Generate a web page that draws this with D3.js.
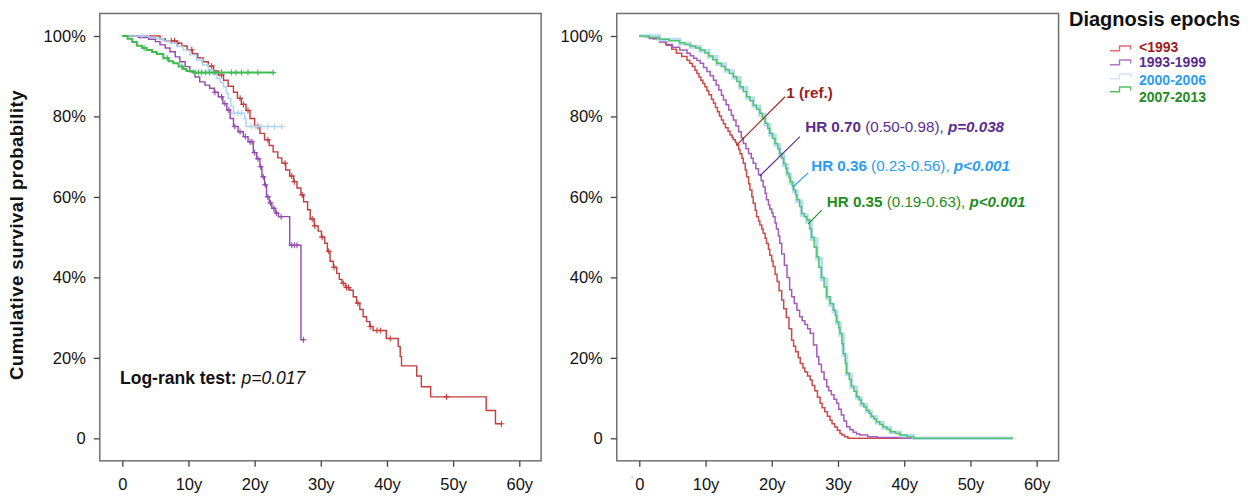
<!DOCTYPE html>
<html>
<head>
<meta charset="utf-8">
<script src="https://cdn.jsdelivr.net/npm/d3@7"></script>
<style>
  html, body { margin: 0; padding: 0; background: #fff; }
  svg { display: block; font-family: "Liberation Sans", Arial, Helvetica, sans-serif; }
</style>
</head>
<body>
<svg id="chart" width="1254" height="496"></svg>
<script>
// ---- Data -----------------------------------------------------------
const epochs = ["<1993", "1993-1999", "2000-2006", "2007-2013"];
const yTicks = [0, 0.2, 0.4, 0.6, 0.8, 1];
const xTicks = [0, 10, 20, 30, 40, 50, 60];

// Kaplan-Meier estimates (years since diagnosis, survival probability)
const kmTimeA = [0, 5.7, 6.5, 8.2, 9.0, 9.8, 10.6, 11.4, 12.2, 13.0, 13.8, 14.5, 15.3, 16.0, 16.8, 17.4, 18.0, 18.7, 19.3, 20.0, 20.8, 21.5, 22.2, 22.8, 23.5, 24.1, 24.7, 25.3, 25.9, 26.4, 27.0, 27.4, 28.0, 28.4, 29.0, 29.6, 30.1, 30.6, 31.0, 31.4, 31.9, 32.4, 32.8, 33.2, 33.7, 34.4, 34.9, 35.4, 35.9, 36.4, 36.9, 37.4, 37.9, 39.9, 41.7, 42.0, 42.2, 44.5, 45.2, 46.6, 55.0, 56.4];
const kmSurvA = [1, 0.993, 0.988, 0.982, 0.975, 0.966, 0.956, 0.946, 0.936, 0.925, 0.913, 0.903, 0.89, 0.875, 0.86, 0.845, 0.83, 0.815, 0.795, 0.775, 0.758, 0.742, 0.728, 0.712, 0.697, 0.684, 0.667, 0.652, 0.638, 0.622, 0.605, 0.588, 0.568, 0.545, 0.528, 0.515, 0.5, 0.485, 0.465, 0.44, 0.425, 0.41, 0.395, 0.385, 0.375, 0.368, 0.352, 0.336, 0.32, 0.302, 0.29, 0.278, 0.268, 0.248, 0.228, 0.203, 0.18, 0.155, 0.128, 0.103, 0.069, 0.036];
const kmCensA = [7.4, 7.9, 8.4, 10.5, 13.5, 15.0, 17.8, 18.3, 19.0, 20.5, 22.0, 24.6, 25.6, 26.0, 27.2, 28.7, 29.1, 30.2, 31.2, 32.0, 33.4, 33.9, 34.2, 35.6, 37.5, 38.5, 39.0, 40.5, 49.0, 57.3];

const kmTimeB = [0, 2.5, 4.0, 5.0, 5.7, 6.5, 7.2, 8.0, 8.7, 9.5, 10.2, 11.0, 11.7, 12.5, 13.2, 13.9, 14.5, 15.2, 15.8, 16.3, 16.8, 17.5, 18.3, 19.0, 19.8, 20.3, 20.8, 21.1, 21.5, 21.8, 22.2, 22.6, 23.1, 23.6, 25.3, 27.0];
const kmSurvB = [1, 0.996, 0.992, 0.986, 0.978, 0.97, 0.961, 0.948, 0.936, 0.924, 0.911, 0.898, 0.886, 0.878, 0.87, 0.86, 0.849, 0.832, 0.816, 0.795, 0.775, 0.762, 0.75, 0.737, 0.71, 0.695, 0.675, 0.65, 0.63, 0.6, 0.585, 0.572, 0.56, 0.551, 0.48, 0.245];
const kmCensB = [14.0, 15.0, 15.5, 16.1, 17.0, 17.8, 18.6, 19.3, 19.6, 20.0, 20.5, 20.9, 21.3, 21.6, 22.0, 22.4, 22.9, 23.3, 24.0, 25.6, 26.0, 26.4, 27.4];

const kmTimeC = [0, 4.0, 5.2, 6.2, 7.2, 8.2, 9.2, 10.2, 11.2, 12.1, 13.0, 13.7, 14.3, 14.8, 15.3, 15.7, 16.0, 16.4, 16.8, 18.5, 18.7];
const kmSurvC = [1, 0.997, 0.993, 0.988, 0.982, 0.974, 0.965, 0.953, 0.94, 0.928, 0.915, 0.905, 0.895, 0.885, 0.874, 0.858, 0.845, 0.825, 0.808, 0.795, 0.775];
const kmCensC = [3.0, 6.0, 12.0, 16.9, 17.5, 18.0, 19.5, 20.2, 21.0, 22.0, 23.0, 24.1];

const kmTimeD = [0, 0.8, 1.5, 2.2, 3.0, 3.7, 4.5, 5.2, 6.2, 7.0, 7.7, 8.5, 9.2, 9.7, 10.7];
const kmSurvD = [1, 0.993, 0.985, 0.976, 0.97, 0.965, 0.96, 0.955, 0.945, 0.937, 0.932, 0.924, 0.918, 0.913, 0.909];
const kmCensD = [3.3, 6.8, 9.0, 11.0, 11.5, 12.0, 12.6, 13.2, 14.0, 15.0, 16.5, 17.2, 18.0, 19.0, 20.5, 22.8];

const kmEnd = [57.3, 27.4, 24.1, 22.8];

// Model-based (adjusted) survival curves, [years, survival]
const fitA = [[0,1],[1.0,0.997],[2.1,0.993],[3.1,0.985],[4.1,0.977],[4.9,0.967],[5.6,0.957],[6.4,0.949],[7.2,0.94],[7.6,0.932],[8.0,0.924],[8.4,0.915],[8.7,0.907],[9.0,0.898],[9.3,0.89],[9.6,0.882],[9.9,0.874],[10.2,0.864],[10.5,0.854],[10.9,0.843],[11.2,0.833],[11.5,0.822],[11.8,0.812],[12.1,0.801],[12.4,0.791],[12.7,0.782],[13.0,0.772],[13.4,0.763],[13.7,0.754],[14.0,0.748],[14.2,0.742],[14.5,0.736],[14.7,0.729],[15.0,0.718],[15.2,0.707],[15.5,0.696],[15.7,0.684],[16.0,0.667],[16.2,0.65],[16.5,0.633],[16.7,0.617],[17.0,0.6],[17.2,0.584],[17.5,0.567],[17.7,0.551],[18.0,0.54],[18.2,0.53],[18.5,0.52],[18.7,0.51],[19.0,0.497],[19.2,0.484],[19.5,0.47],[19.7,0.455],[20.0,0.441],[20.2,0.427],[20.5,0.408],[20.8,0.39],[21.1,0.367],[21.5,0.344],[21.8,0.322],[22.2,0.3],[22.6,0.272],[23.0,0.244],[23.3,0.229],[23.6,0.215],[24.0,0.2],[24.3,0.186],[24.7,0.175],[25.0,0.165],[25.4,0.155],[25.8,0.145],[26.1,0.131],[26.5,0.118],[26.9,0.102],[27.3,0.087],[27.6,0.076],[28.0,0.066],[28.4,0.055],[28.8,0.045],[29.1,0.036],[29.5,0.028],[29.9,0.02],[30.3,0.012],[30.6,0.008],[31.0,0.004],[31.5,0]];
const fitB = [[0,1],[1.5,0.994],[3.1,0.986],[4.0,0.979],[5.0,0.972],[6.1,0.965],[7.2,0.957],[7.7,0.951],[8.2,0.945],[8.7,0.939],[9.2,0.932],[9.7,0.922],[10.2,0.912],[10.7,0.901],[11.2,0.89],[11.6,0.878],[12.0,0.866],[12.4,0.853],[12.7,0.841],[13.1,0.829],[13.5,0.816],[13.9,0.803],[14.2,0.791],[14.6,0.776],[15.0,0.762],[15.4,0.747],[15.7,0.733],[16.1,0.72],[16.5,0.708],[16.9,0.696],[17.2,0.684],[17.6,0.67],[18.0,0.655],[18.4,0.64],[18.7,0.625],[19.0,0.609],[19.2,0.593],[19.5,0.58],[19.7,0.57],[20.0,0.56],[20.2,0.551],[20.5,0.535],[20.7,0.52],[21.0,0.503],[21.2,0.485],[21.5,0.458],[21.9,0.43],[22.3,0.4],[22.7,0.369],[23.0,0.352],[23.4,0.335],[23.8,0.318],[24.2,0.302],[24.6,0.292],[25.0,0.283],[25.4,0.272],[25.8,0.261],[26.3,0.232],[26.8,0.203],[27.1,0.184],[27.5,0.165],[27.9,0.146],[28.3,0.128],[28.6,0.118],[29.0,0.108],[29.4,0.097],[29.8,0.087],[30.1,0.072],[30.5,0.058],[30.9,0.043],[31.3,0.029],[31.8,0.021],[32.3,0.015],[32.8,0.011],[33.3,0.008],[34.5,0.004],[35.9,0.002],[39.4,0]];
const fitC = [[0,1],[3.0,0.991],[6.1,0.981],[7.7,0.973],[9.2,0.963],[10.5,0.948],[11.7,0.93],[13.0,0.913],[14.2,0.896],[15.2,0.871],[16.2,0.846],[17.2,0.825],[18.2,0.804],[19.0,0.779],[19.7,0.754],[20.5,0.729],[21.2,0.704],[21.8,0.679],[22.3,0.655],[22.8,0.634],[23.3,0.613],[23.8,0.589],[24.5,0.555],[25.3,0.538],[26.0,0.495],[26.8,0.446],[27.5,0.395],[28.3,0.348],[28.8,0.331],[29.3,0.315],[29.8,0.286],[30.3,0.257],[30.8,0.206],[31.3,0.159],[32.0,0.127],[32.8,0.1],[33.5,0.083],[34.3,0.067],[35.0,0.053],[35.8,0.039],[36.8,0.026],[37.9,0.015],[39.4,0.007],[41.4,0]];
const fitD = [[0,1],[1.5,0.996],[3.0,0.992],[4.5,0.988],[6.1,0.983],[6.9,0.979],[7.7,0.975],[8.5,0.97],[9.2,0.965],[9.9,0.958],[10.5,0.95],[11.1,0.941],[11.7,0.932],[12.4,0.924],[13.0,0.916],[13.6,0.907],[14.2,0.899],[14.7,0.887],[15.2,0.874],[15.7,0.862],[16.2,0.849],[16.7,0.839],[17.2,0.828],[17.7,0.818],[18.2,0.808],[18.6,0.795],[19.0,0.783],[19.4,0.77],[19.7,0.758],[20.1,0.745],[20.5,0.733],[20.9,0.72],[21.2,0.708],[21.5,0.696],[21.8,0.683],[22.1,0.671],[22.3,0.659],[22.6,0.648],[22.8,0.638],[23.1,0.627],[23.3,0.617],[23.6,0.605],[23.8,0.593],[24.2,0.576],[24.5,0.559],[24.9,0.551],[25.3,0.543],[25.7,0.521],[26.0,0.5],[26.4,0.475],[26.8,0.451],[27.1,0.425],[27.5,0.4],[27.9,0.376],[28.3,0.352],[28.8,0.335],[29.3,0.319],[29.6,0.305],[29.8,0.29],[30.1,0.275],[30.3,0.261],[30.6,0.235],[30.8,0.21],[31.1,0.186],[31.3,0.162],[31.7,0.146],[32.0,0.13],[32.4,0.117],[32.8,0.103],[33.2,0.095],[33.5,0.086],[33.9,0.078],[34.3,0.07],[34.7,0.062],[35.0,0.055],[35.4,0.048],[35.8,0.041],[36.3,0.034],[36.8,0.028],[37.4,0.022],[37.9,0.016],[38.7,0.012],[39.4,0.008],[40.4,0.004],[41.4,0]];

const fitEnd = [42, 42, 56.4, 56.4];

// Hazard ratio labels: [bold part, interval, p value]
const hrBold = ["1 (ref.)", "HR 0.70", "HR 0.36", "HR 0.35"];
const hrCI = ["", " (0.50-0.98), ", " (0.23-0.56), ", " (0.19-0.63), "];
const hrP = ["", "p=0.038", "p<0.001", "p<0.001"];
// Leader line anchors on each curve and at each label (time, survival)
const leadFrom = [[14.7, 0.729], [18.2, 0.652], [23.15, 0.624], [25.5, 0.533]];
const leadTo = [[22.0, 0.849], [24.25, 0.75], [25.5, 0.66], [27.55, 0.567]];
const labelAt = [[22.2, 0.845], [25.05, 0.761], [25.95, 0.664], [28.3, 0.574]];

// ---- Styles ---------------------------------------------------------
const kmColor = ["#c43c3c", "#9548ad", "#acd2f1", "#3fbb52"];
const fitColor = ["#cb4a4a", "#a55bbb", "#bcdcf5", "#4fc56c"];
const textColor = ["#a01c1c", "#5b2c90", "#2a9df4", "#1f8c22"];
const legendSym = ["#de6f6f", "#b075c4", "#cfe5f7", "#50c062"];

const svg = d3.select("#chart");

function stepData(ts, ss, end) {
  const pts = ts.map((t, i) => ({ t: t, s: ss[i] }));
  pts.push({ t: end, s: ss[ss.length - 1] });
  return pts;
}
function survAt(ts, ss, t) {
  let v = ss[0];
  for (let i = 0; i < ts.length; i++) if (ts[i] <= t) v = ss[i];
  return v;
}

function panel(x0, x60) {
  const x = d3.scaleLinear().domain([0, 60]).range([x0, x60]);
  const y = d3.scaleLinear().domain([0, 1]).range([438.3, 36]);
  const g = svg.append("g");
  // frame
  const fx0 = x(-3.4), fx1 = x(63.3), fy0 = y(1.056), fy1 = y(-0.056);
  g.append("rect").attr("x", fx0).attr("y", fy0)
    .attr("width", fx1 - fx0).attr("height", fy1 - fy0)
    .attr("fill", "none").attr("stroke", "#707070").attr("stroke-width", 1.5);
  // axes
  const ya = g.append("g").attr("transform", `translate(${fx0},0)`)
    .call(d3.axisLeft(y).tickValues(yTicks).tickSize(6).tickPadding(8)
      .tickFormat(d => d === 0 ? "0" : d3.format(".0%")(d)));
  const xa = g.append("g").attr("transform", `translate(0,${fy1})`)
    .call(d3.axisBottom(x).tickValues(xTicks).tickSize(6).tickPadding(11)
      .tickFormat(d => d === 0 ? "0" : d + "y"));
  [ya, xa].forEach(a => {
    a.select(".domain").remove();
    a.selectAll(".tick line").attr("stroke", "#444").attr("stroke-width", 1.3);
    a.selectAll(".tick text").attr("font-size", "16.5px").attr("fill", "#111")
      .attr("font-family", "'Liberation Sans', Arial, sans-serif");
  });
  return { g, x, y };
}

// ---- Left panel: Kaplan-Meier ----------------------------------------
const L = panel(122.3, 519.3);
const kmSets = [
  [kmTimeA, kmSurvA, kmCensA], [kmTimeB, kmSurvB, kmCensB],
  [kmTimeC, kmSurvC, kmCensC], [kmTimeD, kmSurvD, kmCensD]
];
const lineL = d3.line().x(d => L.x(d.t)).y(d => L.y(d.s)).curve(d3.curveStepAfter);
kmSets.forEach((k, i) => {
  L.g.append("path").datum(stepData(k[0], k[1], kmEnd[i]))
    .attr("d", lineL).attr("fill", "none")
    .attr("stroke", kmColor[i]).attr("stroke-width", i === 3 ? 2 : 1.4);
  L.g.selectAll(null).data(k[2]).enter().append("path")
    .attr("d", t => {
      const cx = L.x(t), cy = L.y(survAt(k[0], k[1], t));
      return `M${cx - 3},${cy}H${cx + 3}M${cx},${cy - 3}V${cy + 3}`;
    })
    .attr("stroke", kmColor[i]).attr("stroke-width", 1.1).attr("fill", "none");
});
const lr = L.g.append("text").attr("x", 120).attr("y", 384)
  .attr("font-size", "17.5px").attr("fill", "#111");
lr.append("tspan").attr("font-weight", "bold").text("Log-rank test: ");
lr.append("tspan").attr("font-style", "italic").text("p=0.017");

// ---- Right panel: adjusted curves ---------------------------------------
const R = panel(639.3, 1036.7);
const fitSets = [fitA, fitB, fitC, fitD];
const lineR = d3.line().x(d => R.x(d.t)).y(d => R.y(d.s)).curve(d3.curveStepAfter);
fitSets.forEach((f, i) => {
  const pts = stepData(f.map(p => p[0]), f.map(p => p[1]), fitEnd[i]);
  R.g.append("path").datum(pts)
    .attr("d", lineR).attr("fill", "none")
    .attr("stroke", fitColor[i]).attr("stroke-width", i === 2 ? 3.6 : 1.5);
});
R.g.append("text").attr("x", 631).attr("y", 484).attr("font-size", "11px")
  .attr("fill", "#aaa").text("'");

// leader lines and HR labels
hrBold.forEach((b, i) => {
  R.g.append("line")
    .attr("x1", R.x(leadFrom[i][0])).attr("y1", R.y(leadFrom[i][1]))
    .attr("x2", R.x(leadTo[i][0])).attr("y2", R.y(leadTo[i][1]))
    .attr("stroke", textColor[i]).attr("stroke-width", 1.1);
  const t = R.g.append("text")
    .attr("x", R.x(labelAt[i][0])).attr("y", R.y(labelAt[i][1]))
    .attr("font-size", "15.2px").attr("fill", textColor[i]);
  t.append("tspan").attr("font-weight", "bold").text(b);
  if (hrCI[i]) t.append("tspan").text(hrCI[i]);
  if (hrP[i]) t.append("tspan").attr("font-weight", "bold").attr("font-style", "italic").text(hrP[i]);
});

// ---- Y axis title --------------------------------------------------------
svg.append("text").attr("transform", "translate(23,235) rotate(-90)")
  .attr("text-anchor", "middle").attr("font-size", "18.5px")
  .attr("letter-spacing", "0.5px")
  .attr("font-weight", "bold").attr("fill", "#111")
  .text("Cumulative survival probability");

// ---- Legend ----------------------------------------------------------------
const lg = svg.append("g");
lg.append("text").attr("x", 1069).attr("y", 26).attr("font-size", "20px")
  .attr("font-weight", "bold").attr("fill", "#111").text("Diagnosis epochs");
const symTop = [46, 60, 74, 87];
const textBase = [51.7, 67, 84.5, 101.5];
epochs.forEach((e, i) => {
  const yt = symTop[i];
  lg.append("path")
    .attr("d", `M1110,${yt + 4.7}H1119.5V${yt}H1130.7V${yt + 3.5}`)
    .attr("fill", "none").attr("stroke", legendSym[i]).attr("stroke-width", 1.4);
  lg.append("text").attr("x", 1139).attr("y", textBase[i])
    .attr("font-size", "14px").attr("font-weight", "bold")
    .attr("fill", textColor[i]).text(e);
});
</script>
</body>
</html>
